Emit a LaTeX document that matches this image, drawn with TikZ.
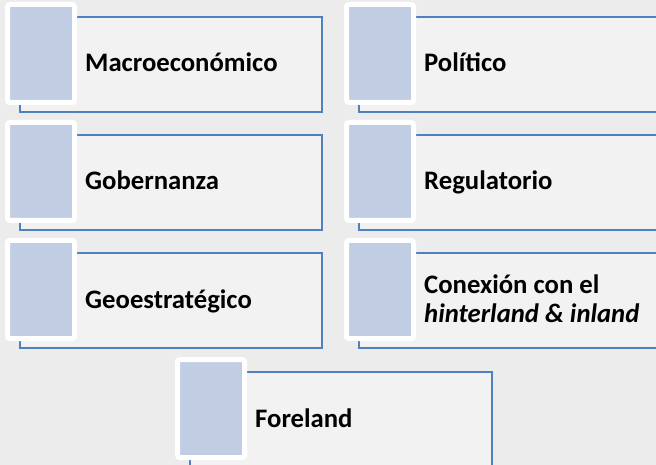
\documentclass[tikz,border=0pt]{standalone}
\usepackage{fontspec}
\setmainfont{Carlito}
\definecolor{bgc}{RGB}{236,236,236}
\definecolor{boxfill}{RGB}{242,242,242}
\definecolor{boxline}{RGB}{79,129,189}
\definecolor{tabfill}{RGB}{193,205,226}
\newcommand\cellbox[4]{%
  \node[bigbox] (#1) at (#2,#3) {};
  \node[tabbox] (#1tab) at ([shift={(-12.5,-12.5)}]#1.north west) {};
  \node[lbl] (#1txt) at ([shift={(65,55)}]#1.north west) {#4};
}
\begin{document}
\begin{tikzpicture}[x=1pt,y=-1pt,
  bigbox/.style={draw=boxline, fill=boxfill, line width=1.5pt, minimum width=302pt,
    minimum height=95pt, anchor=north west, inner sep=0pt, outer sep=0pt},
  tabbox/.style={draw=white, fill=tabfill, line width=5pt, rounded corners=2.5pt,
    minimum width=67pt, minimum height=98pt, anchor=north west, inner sep=0pt, outer sep=0pt},
  lbl/.style={anchor=base west, font=\bfseries\fontsize{26.7}{29}\selectfont, inner sep=0pt, align=left}]
\fill[bgc] (0,0) rectangle (656,465);
\useasboundingbox (0,0) rectangle (656,465);
\cellbox{macro}{20}{17}{Macroeconómico}
\cellbox{poli}{359}{17}{Político}
\cellbox{gob}{20}{135}{Gobernanza}
\cellbox{reg}{359}{135}{Regulatorio}
\cellbox{geo}{20}{253}{Geoestratégico}
\node[bigbox] (con) at (359,253) {};
\node[tabbox] (contab) at ([shift={(-12.5,-12.5)}]con.north west) {};
\node[lbl] (context) at ([shift={(65,69)}]con.north west) {Conexión con el\\\textit{hinterland \& inland}};
\cellbox{fore}{190}{372}{Foreland}
\end{tikzpicture}
\end{document}
